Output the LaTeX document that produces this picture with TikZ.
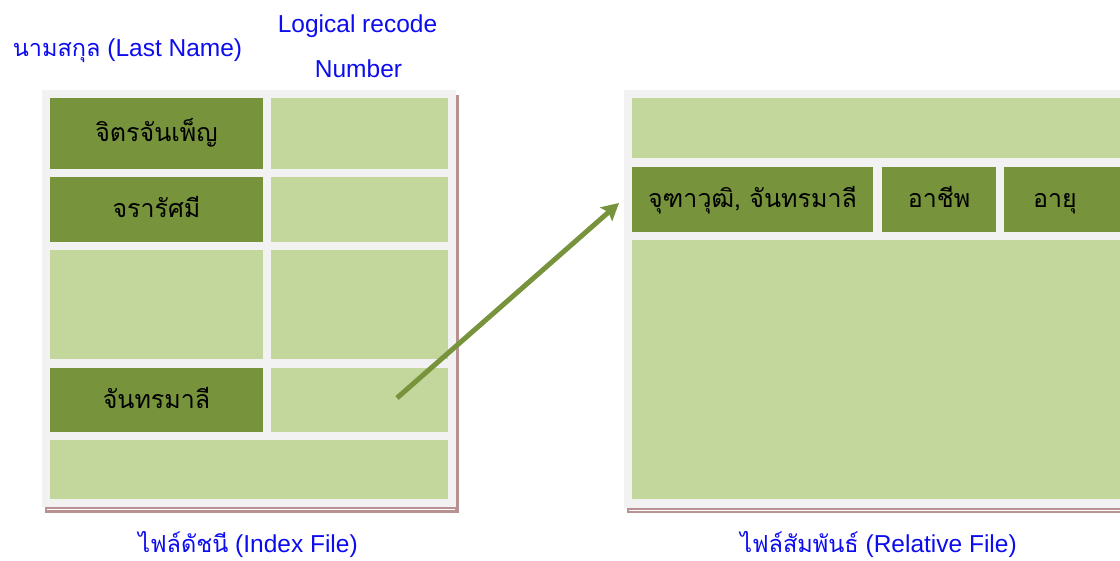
\documentclass[tikz,border=0pt]{standalone}
\usepackage{fontspec}
\setmainfont{Liberation Sans}
\newfontfamily\thai[Script=Thai]{Loma}
\usetikzlibrary{arrows.meta}
\definecolor{darkolive}{RGB}{119,147,60}
\definecolor{lightolive}{RGB}{195,214,155}
\definecolor{panelgray}{RGB}{242,242,242}
\definecolor{shadowbrown}{RGB}{184,146,146}
\definecolor{labelblue}{RGB}{12,12,238}
\newcommand{\thaiblue}[1]{{\thai\fontsize{23.5}{28}\selectfont #1}}
\begin{document}
\begin{tikzpicture}[x=1pt,y=-1pt,
  darkcell/.style={fill=darkolive, draw=none, inner sep=0pt, text=black,
    text height=21pt, text depth=4pt,
    font=\thai\fontsize{25}{30}\selectfont},
  lightcell/.style={fill=lightolive, draw=none, inner sep=0pt},
  panel/.style={fill=panelgray, draw=none},
  shadow/.style={fill=shadowbrown, draw=none},
  bluelabel/.style={text=labelblue, inner sep=0pt, anchor=base, font=\fontsize{24.5}{29}\selectfont},
  linkarrow/.style={draw=darkolive, line width=5pt, -{Stealth[length=17pt,width=18pt,inset=3pt]}}]
\useasboundingbox (0,0) rectangle (1120,561);
\clip (0,0) rectangle (1120,561);
% left panel
\fill[shadow] (45,95) rectangle (459,513);
\fill[panel] (42,90) rectangle (456,507);
\draw[white, line width=0.8pt] (47,509.5) -- (455,509.5);
% right panel
\fill[shadow] (627,95) rectangle (1130,513);
\fill[panel] (624,90) rectangle (1130,508);
\draw[white, line width=0.8pt] (629,510) -- (1130,510);
% left cells
\node[darkcell, minimum width=213pt, minimum height=71pt] (n1) at (156.5,133.5) {จิตรจันเพ็ญ};
\node[lightcell, minimum width=177pt, minimum height=71pt] (r1) at (359.5,133.5) {};
\node[darkcell, minimum width=213pt, minimum height=65pt] (n2) at (156.5,209.5) {จรารัศมี};
\node[lightcell, minimum width=177pt, minimum height=65pt] (r2) at (359.5,209.5) {};
\node[lightcell, minimum width=213pt, minimum height=109pt] (n3) at (156.5,304.5) {};
\node[lightcell, minimum width=177pt, minimum height=109pt] (r3) at (359.5,304.5) {};
\node[darkcell, minimum width=213pt, minimum height=64pt] (n4) at (156.5,400) {จันทรมาลี};
\node[lightcell, minimum width=177pt, minimum height=64pt] (r4) at (359.5,400) {};
\node[lightcell, minimum width=398pt, minimum height=59pt] (n5) at (249,469.5) {};
% right cells
\node[lightcell, minimum width=498pt, minimum height=60pt] (t1) at (881,128) {};
\node[darkcell, minimum width=241pt, minimum height=65pt] (f1) at (752.5,199.5) {จุฑาวุฒิ, จันทรมาลี};
\node[darkcell, minimum width=114pt, minimum height=65pt] (f2) at (939,199.5) {อาชีพ};
\node[darkcell, minimum width=130pt, minimum height=65pt] (f3) at (1069,199.5) {\hspace*{-28pt}อายุ};
\node[lightcell, minimum width=498pt, minimum height=259pt] (t3) at (881,369.5) {};
% labels
\node[bluelabel] (lname) at (127.5,57) {\thaiblue{นามสกุล} (Last Name)};
\node[bluelabel] (lrn1) at (357.5,33) {Logical recode};
\node[bluelabel] (lrn2) at (358.5,78) {Number};
\node[bluelabel] (idx) at (248,552) {\thaiblue{ไฟล์ดัชนี} (Index File)};
\node[bluelabel] (rel) at (878.5,552) {\thaiblue{ไฟล์สัมพันธ์} (Relative File)};
% arrow
\coordinate (astart) at (397,398);
\coordinate (aend) at (619,203);
\draw[linkarrow] (astart) -- (aend);
\end{tikzpicture}
\end{document}
